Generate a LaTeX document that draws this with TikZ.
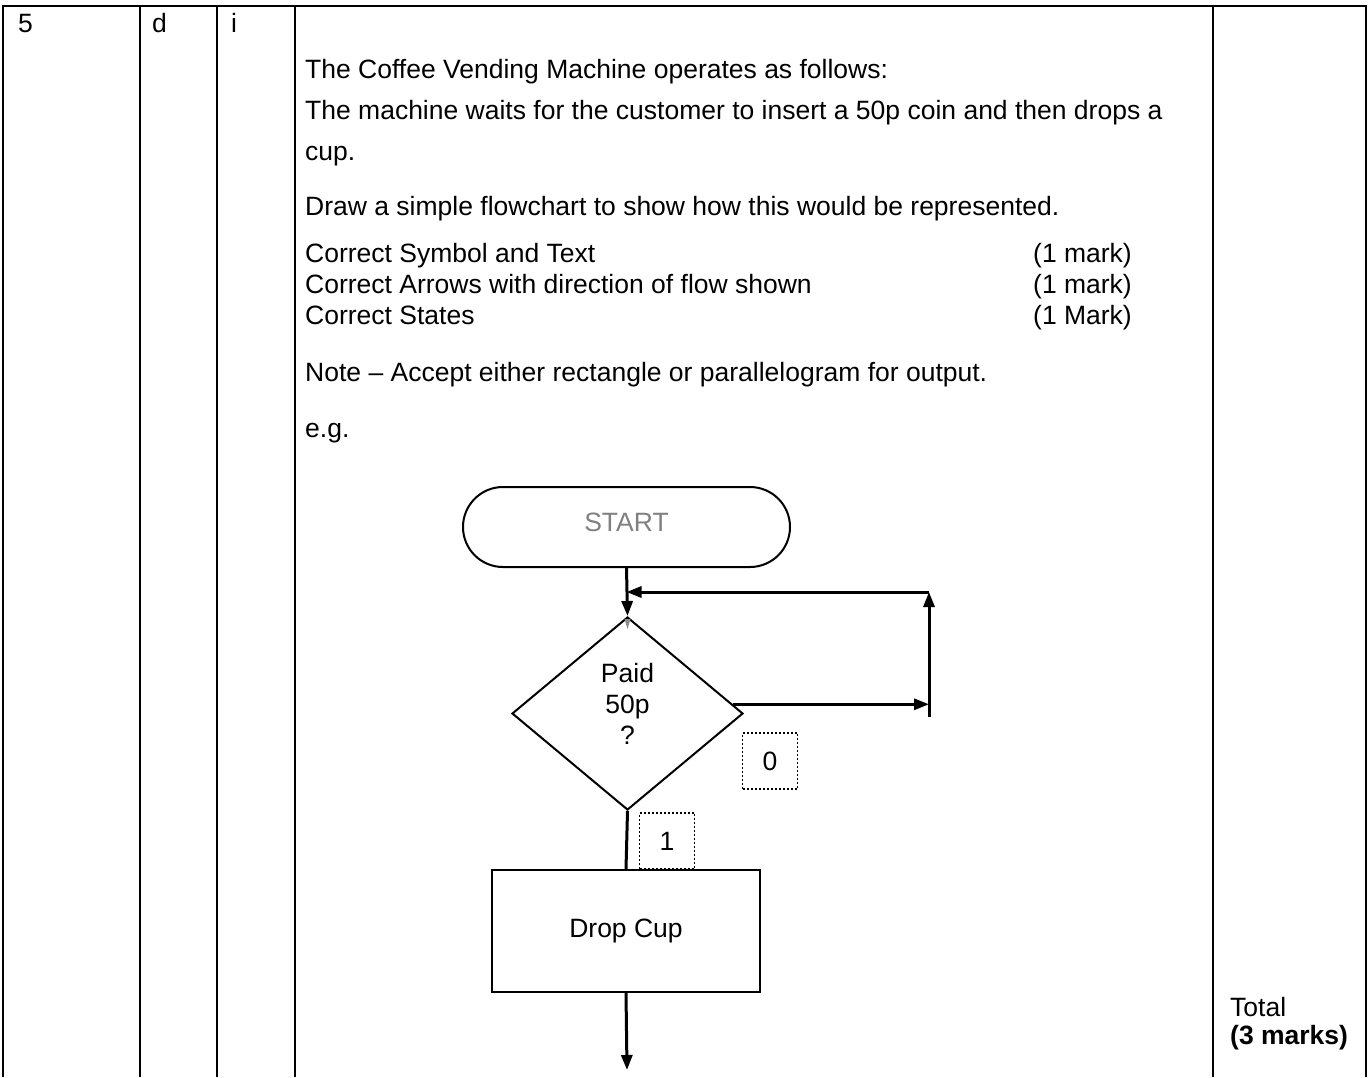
\documentclass[tikz,border=0pt]{standalone}
\usepackage{fontspec}
\setmainfont{Liberation Sans}
\usetikzlibrary{shapes.geometric,arrows.meta,calc}
\begin{document}
\begin{tikzpicture}[x=1pt,y=-1pt,
  txt/.style={anchor=base west,inner sep=0pt,font=\fontsize{26.5}{30.5}\selectfont},
  ctxt/.style={anchor=base,inner sep=0pt,font=\fontsize{26.5}{30.5}\selectfont},
  grid/.style={line width=2pt},
  shapeline/.style={draw,line width=2pt},
  flow/.style={line width=3pt,-{Triangle[length=15pt,width=11pt]}},
  plain/.style={line width=3pt},
  tag/.style={draw,line width=1.5pt,dash pattern=on 2pt off 2pt,minimum width=55pt,minimum height=56pt,inner sep=0pt,font=\fontsize{26.5}{30.5}\selectfont}]
\useasboundingbox (0,0) rectangle (1370,1077);
% table
\draw[grid] (3,1077) -- (3,6) -- (1366,6) -- (1366,1077);
\foreach \x in {140,217,295,1213} \draw[grid] (\x,6) -- (\x,1077);
% row labels
\node[txt] (q5) at (18,32) {5};
\node[txt] (qd) at (152,32) {d};
\node[txt] (qi) at (231,32) {i};
% question text
\node[txt] (l1) at (305,78) {The Coffee Vending Machine operates as follows:};
\node[txt] (l2) at (305,119) {The machine waits for the customer to insert a 50p coin and then drops a};
\node[txt] (l3) at (305,160) {cup.};
\node[txt] (l4) at (305,215) {Draw a simple flowchart to show how this would be represented.};
\node[txt] (m1) at (305,262) {Correct Symbol and Text};
\node[txt] (m2) at (305,293) {Correct Arrows with direction of flow shown};
\node[txt] (m3) at (305,324) {Correct States};
\node[txt] (k1) at (1033,262) {(1 mark)};
\node[txt] (k2) at (1033,293) {(1 mark)};
\node[txt] (k3) at (1033,324) {(1 Mark)};
\node[txt] (note) at (305,381) {Note -- Accept either rectangle or parallelogram for output.};
\node[txt] (eg) at (305,437) {e.g.};
% total
\node[txt] (tot) at (1230,1016) {Total};
\node[txt,font=\fontsize{26.5}{30.5}\selectfont\bfseries] (tot3) at (1230,1044) {(3 marks)};
% flowchart
\node[shapeline,rounded corners=40pt,minimum width=327pt,minimum height=80pt,inner sep=0pt] (start) at (626.5,527) {};
\node[inner sep=0pt,text=black!50,font=\fontsize{26.5}{30.5}\selectfont] (starttxt) at (626.5,522.5) {START};
\node[shapeline,diamond,minimum width=231pt,minimum height=193pt,inner sep=0pt] (dec) at (627.5,713.5) {};
\node[ctxt] (dt1) at (627.5,682) {Paid};
\node[ctxt] (dt2) at (627.5,713) {50p};
\node[ctxt] (dt3) at (627.5,744) {?};
\node[shapeline,minimum width=268pt,minimum height=122pt,inner sep=0pt,font=\fontsize{26.5}{30.5}\selectfont] (cup) at (626,931) {Drop Cup};
\node[tag] (t0) at (770,761) {0};
\node[tag] (t1) at (667,841) {1};
\coordinate (lt) at (929,592);
\coordinate (lb) at (929,717);
\coordinate (fin) at (627,1070);
\draw[flow] (start.south) -- (dec.north);
\fill[black!45] (624.5,619) -- (630.5,619) -- (627.5,629) -- cycle;
\draw[flow] (dec.5) -- (dec.5 -| lt);
\draw[flow] (lb) -- (lt);
\draw[flow] (lt) -- (lt -| start.south);
\draw[plain] (dec.south) -- (cup.north);
\draw[flow] (cup.south) -- (fin);
\end{tikzpicture}
\end{document}
